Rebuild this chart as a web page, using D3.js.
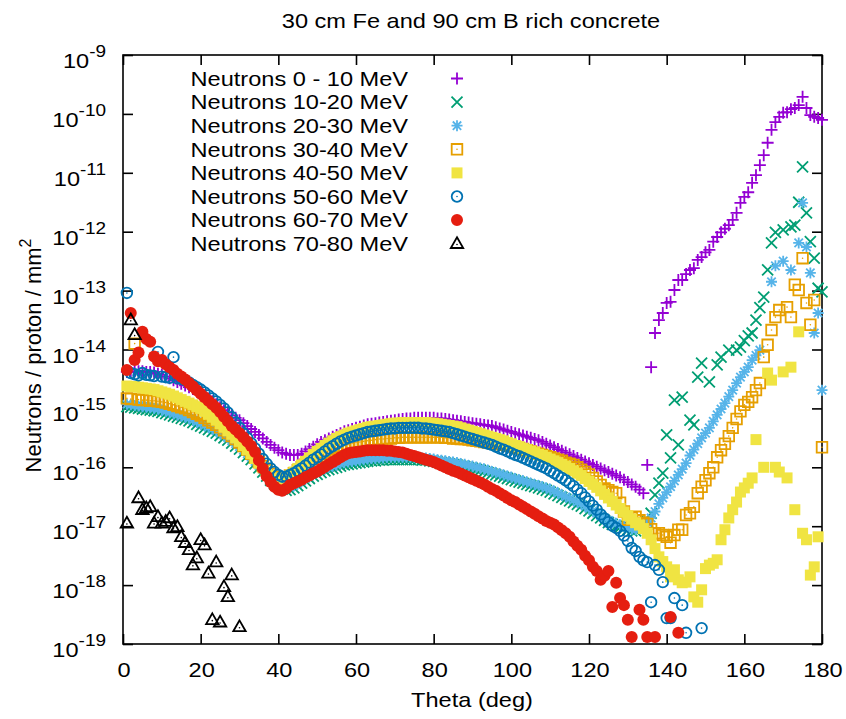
<!DOCTYPE html>
<html>
<head>
<meta charset="utf-8">
<script src="https://cdn.jsdelivr.net/npm/d3@7"></script>
<style>
  body { margin: 0; background: #fff; }
  text { font-family: "Liberation Sans", Arial, Helvetica, sans-serif; fill: #000; }
</style>
</head>
<body>
<div id="chart"></div>
<script>
// Angular bins (deg), one point per degree
const thetaDeg = d3.range(1, 181);
const xTicks = [0, 20, 40, 60, 80, 100, 120, 140, 160, 180];
const yTickExps = [-19, -18, -17, -16, -15, -14, -13, -12, -11, -10, -9];

// log10(neutrons / proton / mm^2), index 0 -> theta = 1 deg; null = no point
const logFlux0to10 = [
  -14.38, -14.38, -14.37, -14.37, -14.37, -14.38, -14.38, -14.39, -14.41, -14.43,
  -14.46, -14.49, -14.52, -14.55, -14.58, -14.61, -14.64, -14.67, -14.70, -14.74,
  -14.78, -14.83, -14.88, -14.93, -14.98, -15.03, -15.07, -15.12, -15.16, -15.20,
  -15.25, -15.30, -15.35, -15.40, -15.45, -15.51, -15.57, -15.62, -15.67, -15.71,
  -15.75, -15.77, -15.79, -15.79, -15.79, -15.77, -15.73, -15.69, -15.65, -15.61,
  -15.57, -15.54, -15.51, -15.48, -15.45, -15.42, -15.39, -15.37, -15.35, -15.33,
  -15.31, -15.29, -15.27, -15.26, -15.25, -15.24, -15.23, -15.22, -15.21, -15.20,
  -15.19, -15.18, -15.17, -15.17, -15.16, -15.16, -15.16, -15.16, -15.16, -15.16,
  -15.17, -15.17, -15.18, -15.19, -15.20, -15.21, -15.22, -15.23, -15.24, -15.25,
  -15.26, -15.27, -15.28, -15.29, -15.30, -15.32, -15.34, -15.36, -15.38, -15.40,
  -15.42, -15.44, -15.46, -15.48, -15.50, -15.52, -15.54, -15.57, -15.60, -15.63,
  -15.66, -15.69, -15.72, -15.75, -15.78, -15.81, -15.84, -15.87, -15.90, -15.93,
  -15.96, -15.99, -16.02, -16.05, -16.08, -16.11, -16.14, -16.17, -16.21, -16.25,
  -16.29, -16.33, -16.38, -16.44, -15.96, -14.30, -13.72, -13.50, -13.38, -13.21,
  -13.19, -12.99, -12.82, -12.82, -12.72, -12.65, -12.62, -12.48, -12.43, -12.35,
  -12.31, -12.17, -12.09, -12.01, -11.95, -11.89, -11.80, -11.68, -11.51, -11.41,
  -11.33, -11.17, -11.04, -10.87, -10.70, -10.49, -10.27, -10.14, -10.05, -9.98,
  -9.97, -9.92, -9.90, -9.85, -9.71, -9.90, -10.02, -10.05, -10.07, -10.10
];

const logFlux10to20 = [
  -14.97, -14.98, -14.99, -15.00, -15.01, -15.02, -15.03, -15.04, -15.05, -15.07,
  -15.09, -15.11, -15.13, -15.15, -15.17, -15.19, -15.21, -15.24, -15.27, -15.30,
  -15.33, -15.36, -15.39, -15.42, -15.46, -15.50, -15.54, -15.59, -15.64, -15.69,
  -15.75, -15.81, -15.87, -15.94, -16.01, -16.08, -16.15, -16.22, -16.28, -16.33,
  -16.37, -16.39, -16.38, -16.35, -16.31, -16.27, -16.23, -16.19, -16.15, -16.12,
  -16.09, -16.06, -16.04, -16.02, -16.00, -15.98, -15.96, -15.95, -15.94, -15.93,
  -15.92, -15.91, -15.90, -15.89, -15.89, -15.88, -15.88, -15.87, -15.87, -15.87,
  -15.87, -15.87, -15.87, -15.87, -15.87, -15.87, -15.88, -15.88, -15.89, -15.90,
  -15.91, -15.92, -15.93, -15.94, -15.95, -15.96, -15.98, -15.99, -16.01, -16.02,
  -16.04, -16.05, -16.07, -16.09, -16.11, -16.13, -16.15, -16.17, -16.19, -16.21,
  -16.23, -16.25, -16.27, -16.29, -16.31, -16.33, -16.35, -16.37, -16.39, -16.42,
  -16.45, -16.48, -16.51, -16.54, -16.57, -16.60, -16.63, -16.66, -16.70, -16.74,
  -16.78, -16.82, -16.86, -16.90, -16.94, -16.97, -17.00, -17.02, -17.04, -17.06,
  -17.08, -17.08, -17.05, -17.00, -16.92, -16.78, -16.47, -16.27, -16.10, -15.45,
  -15.84, -14.86, -15.62, -14.81, null, -15.20, -15.28, -14.47, -14.23, null,
  -14.55, null, -14.26, -14.13, null, -14.01, null, -14.01, -13.96, -13.85,
  -13.77, -13.72, -13.50, -13.29, -13.11, -12.65, -12.19, -12.01, null, -11.97,
  null, -11.92, -11.89, -11.50, -10.90, -11.68, -12.17, -12.45, -12.96, -13.02
];

const logFlux20to30 = [
  -14.93, -14.94, -14.95, -14.96, -14.97, -14.98, -14.99, -15.00, -15.01, -15.03,
  -15.05, -15.07, -15.09, -15.11, -15.13, -15.15, -15.17, -15.20, -15.23, -15.26,
  -15.29, -15.32, -15.35, -15.38, -15.42, -15.46, -15.50, -15.55, -15.60, -15.65,
  -15.71, -15.77, -15.83, -15.90, -15.97, -16.04, -16.11, -16.18, -16.24, -16.29,
  -16.33, -16.35, -16.34, -16.31, -16.27, -16.23, -16.19, -16.15, -16.11, -16.08,
  -16.05, -16.02, -16.00, -15.98, -15.96, -15.94, -15.92, -15.91, -15.90, -15.89,
  -15.88, -15.87, -15.86, -15.85, -15.85, -15.84, -15.84, -15.83, -15.83, -15.83,
  -15.83, -15.83, -15.83, -15.83, -15.83, -15.83, -15.84, -15.84, -15.85, -15.86,
  -15.87, -15.88, -15.89, -15.90, -15.91, -15.92, -15.94, -15.95, -15.97, -15.98,
  -16.00, -16.01, -16.03, -16.05, -16.07, -16.09, -16.11, -16.13, -16.15, -16.17,
  -16.19, -16.21, -16.23, -16.25, -16.27, -16.29, -16.31, -16.33, -16.35, -16.38,
  -16.41, -16.44, -16.47, -16.50, -16.53, -16.56, -16.59, -16.62, -16.66, -16.70,
  -16.74, -16.78, -16.82, -16.86, -16.90, -16.93, -16.96, -16.98, -17.00, -17.02,
  -17.05, -17.06, -17.04, -17.00, -16.93, -16.86, -16.75, -16.62, -16.52, -16.42,
  -16.33, -16.23, -16.13, -16.03, -15.93, -15.80, -15.70, -15.60, -15.50, -15.42,
  -15.33, -15.22, -15.11, -15.01, -14.91, -14.80, -14.69, -14.57, -14.47, -14.38,
  -14.30, -14.18, -14.10, -14.01, null, null, -12.85, -12.58, null, -12.50,
  null, -12.65, null, -12.19, -11.51, -12.26, -12.70, -13.72, -13.38, -14.69
];

const logFlux30to40 = [
  -14.83, -14.84, -13.90, -14.85, -14.86, -14.86, -14.87, -14.87, -14.88, -14.89,
  -14.90, -14.92, -14.94, -14.96, -14.98, -15.00, -15.03, -15.06, -15.09, -15.12,
  -15.16, -15.20, -15.24, -15.28, -15.32, -15.37, -15.42, -15.47, -15.52, -15.58,
  -15.64, -15.70, -15.77, -15.84, -15.91, -15.98, -16.05, -16.11, -16.16, -16.19,
  -16.20, -16.18, -16.14, -16.10, -16.05, -16.00, -15.95, -15.90, -15.86, -15.82,
  -15.78, -15.75, -15.72, -15.69, -15.67, -15.65, -15.63, -15.61, -15.59, -15.58,
  -15.57, -15.56, -15.55, -15.54, -15.53, -15.52, -15.52, -15.51, -15.51, -15.50,
  -15.50, -15.49, -15.49, -15.49, -15.49, -15.49, -15.49, -15.49, -15.49, -15.49,
  -15.49, -15.49, -15.50, -15.50, -15.51, -15.51, -15.52, -15.52, -15.53, -15.54,
  -15.55, -15.56, -15.57, -15.58, -15.59, -15.60, -15.61, -15.62, -15.63, -15.64,
  -15.65, -15.67, -15.69, -15.71, -15.73, -15.75, -15.77, -15.79, -15.81, -15.83,
  -15.85, -15.87, -15.89, -15.92, -15.94, -15.96, -16.00, -16.04, -16.08, -16.12,
  -16.18, -16.24, -16.30, -16.36, -16.39, -16.42, -16.44, -16.60, -16.75, -16.89,
  -16.86, -16.84, -16.90, -16.94, -16.96, -17.05, -17.12, -17.12, -17.15, -17.18,
  -17.28, -17.15, -17.06, -17.06, -16.81, -16.78, -16.67, -16.44, -16.33, -16.22,
  -16.10, -16.00, -15.83, -15.71, -15.60, -15.47, -15.33, -15.18, -15.05, -14.94,
  -14.89, -14.81, -14.69, -14.57, -14.13, -13.92, -13.67, -13.45, -13.33, null,
  -13.28, -13.45, -12.90, -12.99, -12.45, -13.21, -13.58, -13.16, null, -15.66
];

const logFlux40to50 = [
  -14.62, -14.63, -14.63, -14.64, -14.65, -14.66, -14.67, -14.68, -14.70, -14.72,
  -14.74, -14.76, -14.79, -14.82, -14.85, -14.88, -14.91, -14.94, -14.97, -15.00,
  -15.05, -15.10, -15.15, -15.20, -15.26, -15.32, -15.38, -15.44, -15.50, -15.56,
  -15.63, -15.70, -15.77, -15.85, -15.93, -16.01, -16.08, -16.14, -16.18, -16.20,
  -16.20, -16.17, -16.13, -16.08, -16.02, -15.96, -15.90, -15.84, -15.78, -15.73,
  -15.68, -15.63, -15.59, -15.55, -15.51, -15.48, -15.45, -15.42, -15.40, -15.38,
  -15.36, -15.34, -15.32, -15.31, -15.30, -15.29, -15.28, -15.27, -15.26, -15.25,
  -15.25, -15.24, -15.24, -15.24, -15.24, -15.24, -15.24, -15.24, -15.25, -15.25,
  -15.26, -15.27, -15.28, -15.29, -15.30, -15.31, -15.33, -15.35, -15.37, -15.39,
  -15.41, -15.43, -15.45, -15.47, -15.49, -15.51, -15.53, -15.55, -15.58, -15.60,
  -15.63, -15.65, -15.68, -15.70, -15.73, -15.75, -15.78, -15.80, -15.83, -15.86,
  -15.89, -15.92, -15.95, -15.98, -16.02, -16.06, -16.10, -16.14, -16.19, -16.24,
  -16.29, -16.34, -16.40, -16.46, -16.52, -16.58, -16.64, -16.70, -16.76, -16.82,
  -16.88, -16.94, -16.98, -17.04, -17.12, -17.23, -17.38, -17.52, -17.60, -17.69,
  -17.86, -17.74, -17.91, -17.96, -17.95, -17.86, -18.20, -18.29, -18.08, -17.72,
  -17.66, -17.63, -17.57, -17.23, -17.06, -16.86, -16.72, -16.59, -16.42, -16.35,
  -16.27, -16.18, -15.53, null, -16.00, -14.40, -14.52, -16.00, -16.08, -14.38,
  -16.18, -14.30, -16.72, -13.70, -17.12, -17.23, -17.83, -17.69, -17.18, null
];

const logFlux50to60 = [
  -13.04, -14.40, -14.42, -14.44, -14.40, -14.43, -14.44, -14.45, -14.04, -14.46,
  -14.47, -14.48, -14.13, -14.49, -14.50, -14.52, -14.56, -14.60, -14.64, -14.68,
  -14.73, -14.78, -14.83, -14.88, -14.94, -15.00, -15.07, -15.15, -15.24, -15.33,
  -15.42, -15.50, -15.59, -15.68, -15.77, -15.86, -15.94, -16.02, -16.08, -16.13,
  -16.16, -16.16, -16.13, -16.10, -16.06, -16.02, -15.97, -15.92, -15.87, -15.83,
  -15.78, -15.73, -15.68, -15.64, -15.60, -15.56, -15.53, -15.50, -15.48, -15.46,
  -15.44, -15.42, -15.40, -15.39, -15.38, -15.37, -15.36, -15.35, -15.34, -15.34,
  -15.33, -15.33, -15.33, -15.33, -15.33, -15.33, -15.34, -15.34, -15.35, -15.36,
  -15.37, -15.38, -15.39, -15.40, -15.42, -15.44, -15.46, -15.48, -15.50, -15.52,
  -15.54, -15.56, -15.58, -15.60, -15.62, -15.65, -15.68, -15.70, -15.73, -15.76,
  -15.79, -15.81, -15.84, -15.87, -15.90, -15.93, -15.96, -15.99, -16.02, -16.06,
  -16.10, -16.14, -16.18, -16.22, -16.27, -16.32, -16.38, -16.44, -16.51, -16.58,
  -16.65, -16.72, -16.80, -16.87, -16.93, -16.99, -17.03, -17.08, -17.16, -17.25,
  -17.37, -17.42, -17.52, -17.58, -17.61, -18.29, -17.66, -17.74, -17.95, -18.56,
  -18.56, -18.22, null, -18.34, -18.81, null, null, null, -18.73
];

const logFlux60to70 = [
  -14.35, -13.38, -14.18, -14.05, -13.70, -13.82, -13.87, -14.12, -14.20, -14.18,
  -14.25, -14.30, -14.35, -14.41, -14.46, -14.51, -14.57, -14.63, -14.69, -14.75,
  -14.81, -14.87, -14.93, -14.99, -15.06, -15.14, -15.22, -15.30, -15.36, -15.42,
  -15.49, -15.56, -15.64, -15.74, -15.88, -16.02, -16.15, -16.25, -16.33, -16.38,
  -16.40, -16.36, -16.30, -16.27, -16.24, -16.21, -16.17, -16.14, -16.10, -16.07,
  -16.03, -15.99, -15.95, -15.91, -15.87, -15.83, -15.79, -15.76, -15.75, -15.74,
  -15.73, -15.72, -15.71, -15.71, -15.71, -15.71, -15.71, -15.72, -15.72, -15.73,
  -15.74, -15.75, -15.77, -15.79, -15.81, -15.83, -15.85, -15.87, -15.89, -15.91,
  -15.94, -15.97, -16.00, -16.03, -16.06, -16.08, -16.11, -16.14, -16.17, -16.20,
  -16.23, -16.26, -16.29, -16.33, -16.37, -16.40, -16.44, -16.48, -16.52, -16.56,
  -16.59, -16.63, -16.67, -16.71, -16.75, -16.79, -16.83, -16.87, -16.91, -16.94,
  -16.97, -17.02, -17.07, -17.12, -17.18, -17.26, -17.33, -17.40, -17.50, -17.58,
  -17.69, -17.76, -17.91, -17.84, -17.76, -18.37, -17.96, -18.22, -18.34, -18.59,
  -18.88, null, -18.42, -18.59, -18.88, null, -18.88, null, null, null,
  -18.54, null, -18.81
];

const logFlux70to80 = [
  -16.95, -13.50, -13.75, -16.52, -16.72, -16.69, -16.67, -16.95, -16.84, -16.95,
  -16.92, -16.86, -17.03, -17.01, -17.18, -17.28, -17.40, -17.66, -17.54, -17.23,
  -17.32, -17.80, -18.59, -17.61, -18.63, -18.03, -18.20, -17.83, null, -18.71
];

const seriesNames = [
  'Neutrons 0 - 10 MeV', 'Neutrons 10-20 MeV', 'Neutrons 20-30 MeV', 'Neutrons 30-40 MeV',
  'Neutrons 40-50 MeV', 'Neutrons 50-60 MeV', 'Neutrons 60-70 MeV', 'Neutrons 70-80 MeV'
];
const seriesValues = [logFlux0to10, logFlux10to20, logFlux20to30, logFlux30to40,
  logFlux40to50, logFlux50to60, logFlux60to70, logFlux70to80];
const seriesColors = ['#9400d3', '#009e73', '#56b4e9', '#e69f00', '#f0e442', '#0072b2', '#e51e10', '#000000'];
const seriesShapes = ['plus', 'cross', 'star', 'box', 'boxFilled', 'circle', 'disc', 'triangle'];

const width = 846, height = 719;
const margin = {top: 55, right: 24, bottom: 75, left: 123};
const FONT = 20.5;
const SX = 1.15;   // text in the reference is a bit wide

const x = d3.scaleLinear().domain([0, 180]).range([margin.left, width - margin.right]);
const y = d3.scaleLog().domain([1e-19, 1e-9]).range([height - margin.bottom, margin.top]);

const svg = d3.select('#chart').append('svg')
  .attr('width', width)
  .attr('height', height)
  .style('font-size', FONT + 'px');

// frame
svg.append('rect')
  .attr('x', x(0)).attr('y', y(1e-9))
  .attr('width', x(180) - x(0)).attr('height', y(1e-19) - y(1e-9))
  .attr('fill', 'none').attr('stroke', '#000').attr('stroke-width', 1.6);

// inward ticks on all four sides
const yTickVals = yTickExps.map(e => Math.pow(10, e));
const axes = [
  [d3.axisBottom(x).tickValues(xTicks), `translate(0,${y(1e-19)})`],
  [d3.axisTop(x).tickValues(xTicks), `translate(0,${y(1e-9)})`],
  [d3.axisLeft(y).tickValues(yTickVals), `translate(${x(0)},0)`],
  [d3.axisRight(y).tickValues(yTickVals), `translate(${x(180)},0)`]
];
axes.forEach(([axis, tr]) => {
  svg.append('g')
    .attr('transform', tr)
    .call(axis.tickSize(-10).tickFormat(''))
    .call(g => g.select('.domain').remove())
    .call(g => g.selectAll('.tick line').attr('stroke', '#000').attr('stroke-width', 1.6));
});

// text stretched horizontally like the reference
function label(parent, px, py, str, anchor) {
  return parent.append('text')
    .attr('transform', `translate(${px},${py}) scale(${SX},1)`)
    .attr('text-anchor', anchor)
    .text(str);
}

// x tick labels
xTicks.forEach(t => label(svg, x(t) + 1, y(1e-19) + 33, String(t), 'middle'));

// y tick labels 10^n
yTickExps.forEach(e => {
  const t = svg.append('text')
    .attr('transform', `translate(106,${y(Math.pow(10, e)) + 13}) scale(${SX},1)`)
    .attr('text-anchor', 'end');
  t.append('tspan').text('10');
  t.append('tspan').attr('dy', -11).style('font-size', '16.5px').text(String(e));
});

// title and axis titles
label(svg, 471, 28, '30 cm Fe and 90 cm B rich concrete', 'middle');
label(svg, 472, 707, 'Theta (deg)', 'middle');
const yTitle = svg.append('text')
  .attr('transform', `translate(41,${(y(1e-9) + y(1e-19)) / 2 + 6}) rotate(-90)`)
  .attr('text-anchor', 'middle')
  .style('font-size', '22px');
yTitle.append('tspan').text('Neutrons / proton / mm');
yTitle.append('tspan').attr('dy', -10).style('font-size', '16px').text('2');

// point glyphs (gnuplot point types)
function markerPath(shape, cx, cy) {
  const p = d3.path();
  if (shape === 'plus' || shape === 'star') {
    const h = shape === 'star' ? 5.5 : 6;
    p.moveTo(cx - h, cy); p.lineTo(cx + h, cy);
    p.moveTo(cx, cy - h); p.lineTo(cx, cy + h);
  }
  if (shape === 'cross' || shape === 'star') {
    const h = shape === 'star' ? 4.2 : 5.5;
    p.moveTo(cx - h, cy - h); p.lineTo(cx + h, cy + h);
    p.moveTo(cx - h, cy + h); p.lineTo(cx + h, cy - h);
  }
  if (shape === 'box') p.rect(cx - 5.3, cy - 5.3, 10.6, 10.6);
  if (shape === 'boxFilled') p.rect(cx - 5.5, cy - 5.5, 11, 11);
  if (shape === 'circle' || shape === 'disc') {
    const r = shape === 'disc' ? 6 : 5.3;
    p.moveTo(cx + r, cy);
    p.arc(cx, cy, r, 0, 2 * Math.PI);
  }
  if (shape === 'triangle') {
    p.moveTo(cx, cy - 6.5);
    p.lineTo(cx + 6.2, cy + 4.3);
    p.lineTo(cx - 6.2, cy + 4.3);
    p.closePath();
  }
  return p.toString();
}
const filled = s => s === 'boxFilled' || s === 'disc';
const dotted = s => s === 'box' || s === 'circle' || s === 'triangle';

function drawMarkers(g, pts, shape, color) {
  g.selectAll('path.mk').data(pts).join('path')
    .attr('class', 'mk')
    .attr('d', d => markerPath(shape, d[0], d[1]))
    .attr('fill', filled(shape) ? color : 'none')
    .attr('stroke', filled(shape) ? 'none' : color)
    .attr('stroke-width', 1.8);
  if (dotted(shape)) {
    g.selectAll('circle.dot').data(pts).join('circle')
      .attr('class', 'dot')
      .attr('cx', d => d[0]).attr('cy', d => d[1] + (shape === 'triangle' ? 0.8 : 0))
      .attr('r', 0.8).attr('fill', color);
  }
}

// series, in gnuplot drawing order
seriesValues.forEach((vals, i) => {
  const pts = thetaDeg
    .map((t, k) => [t, vals[k]])
    .filter(d => d[1] != null)
    .map(d => [x(d[0]), y(Math.pow(10, d[1]))]);
  drawMarkers(svg.append('g'), pts, seriesShapes[i], seriesColors[i]);
});

// key
const key = svg.append('g');
seriesNames.forEach((name, i) => {
  const cy = 78.5 + i * 23.6;
  label(key, 408, cy + 7.3, name, 'end');
  drawMarkers(key.append('g'), [[457, cy]], seriesShapes[i], seriesColors[i]);
});
</script>
</body>
</html>
